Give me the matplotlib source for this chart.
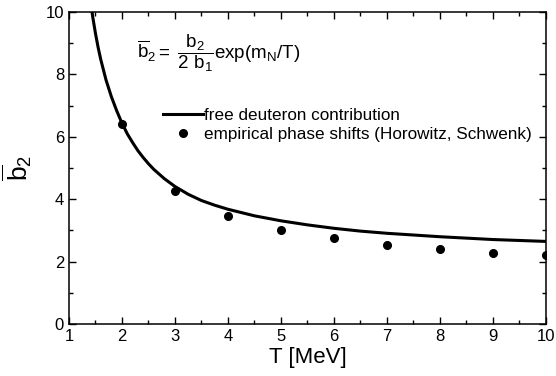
import matplotlib
matplotlib.use("Agg")
import matplotlib.pyplot as plt
from matplotlib.ticker import MultipleLocator

plt.rcParams['font.family'] = ['Liberation Sans', 'DejaVu Sans']
plt.rcParams['mathtext.fontset'] = 'custom'
plt.rcParams['mathtext.rm'] = 'Liberation Sans'
plt.rcParams['mathtext.it'] = 'Liberation Sans'
plt.rcParams['mathtext.bf'] = 'Liberation Sans:bold'

# free deuteron contribution
T_curve = [1.42, 1.45, 1.5, 1.55, 1.6, 1.7, 1.8, 1.9, 2.0, 2.1, 2.2, 2.3, 2.4, 2.5, 2.6, 2.8,
           3.0, 3.25, 3.5, 3.75, 4.0, 4.5, 5.0, 5.5, 6.0, 6.5, 7.0, 8.0, 9.0, 10.0]
b_curve = [10.2, 9.83, 9.32, 8.87, 8.48, 7.82, 7.29, 6.84, 6.44, 6.10, 5.82, 5.56, 5.34, 5.14, 4.96, 4.66,
           4.41, 4.16, 3.96, 3.81, 3.68, 3.47, 3.31, 3.18, 3.07, 2.98, 2.91, 2.80, 2.71, 2.65]

# empirical phase shifts (Horowitz, Schwenk)
T_pts = [2, 3, 4, 5, 6, 7, 8, 9, 10]
b_pts = [6.40, 4.28, 3.48, 3.03, 2.75, 2.55, 2.40, 2.29, 2.20]

fig = plt.figure(figsize=(5.56, 3.76), dpi=100)
ax = fig.add_axes([0.124, 0.138, 0.858, 0.830])

ax.plot(T_curve, b_curve, color='black', lw=2.2, label='free deuteron contribution')
ax.plot(T_pts, b_pts, 'o', color='black', ms=5.5, label='empirical phase shifts (Horowitz, Schwenk)')

ax.set_xlim(1, 10)
ax.set_ylim(0, 10)
ax.xaxis.set_major_locator(MultipleLocator(1))
ax.xaxis.set_minor_locator(MultipleLocator(0.5))
ax.yaxis.set_major_locator(MultipleLocator(2))
ax.yaxis.set_minor_locator(MultipleLocator(1))
ax.tick_params(which='both', direction='in', top=True, right=True, labelsize=12, width=1)
ax.tick_params(which='major', length=5)
ax.tick_params(which='minor', length=3)
for s in ax.spines.values():
    s.set_linewidth(1.1)

ax.set_xlabel('T [MeV]', fontsize=16, labelpad=2)
ax.set_ylabel(r'$\overline{\mathrm{b}}_2$', fontsize=19, labelpad=8)

ax.text(0.142, 0.87, r'$\overline{\mathrm{b}}_2 = \ \dfrac{\mathrm{b}_2}{2\ \mathrm{b}_1}\mathrm{exp(m_N/T)}$',
        transform=ax.transAxes, fontsize=13.5, va='center', ha='left')

ax.legend(loc='upper left', bbox_to_anchor=(0.18, 0.72), frameon=False, fontsize=12.3,
          handlelength=2.3, handletextpad=0.1, borderpad=0, labelspacing=0.25, numpoints=1)

fig.savefig('out.png', dpi=100)
